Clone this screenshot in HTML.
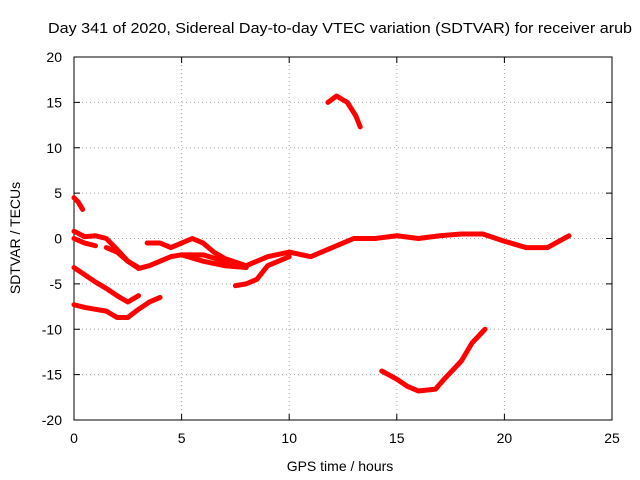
<!DOCTYPE html>
<html><head><meta charset="utf-8"><style>
body{margin:0;background:#fff;}
svg{display:block;font-family:"Liberation Sans",sans-serif;}
</style></head><body>
<svg id="chart" width="640" height="480">
<rect width="640" height="480" fill="#fff"/>
<text x="340" y="33" font-size="15" text-anchor="middle" textLength="584" lengthAdjust="spacingAndGlyphs">Day 341 of 2020, Sidereal Day-to-day VTEC variation (SDTVAR) for receiver arub</text>
<g id="grid"></g>
<g id="axes"></g>
<g id="series"></g>
<text x="340" y="471" font-size="14" text-anchor="middle">GPS time / hours</text>
<text x="20" y="238" font-size="14" text-anchor="middle" transform="rotate(-90 20 238)">SDTVAR / TECUs</text>
</svg>
<script>
const xTicks=[0,5,10,15,20,25];
const yTicks=[-20,-15,-10,-5,0,5,10,15,20];
const track1=[[0,4.5],[0.2,4],[0.4,3.2]];
const track2=[[0,0.8],[0.5,0.2],[1,0.3],[1.5,0],[2,-1.2],[2.5,-2.5],[3,-3.3],[3.5,-3],[4,-2.5],[4.5,-2],[5,-1.8],[6,-1.8],[7,-2.5],[8,-3],[9,-2],[10,-1.5],[11,-2],[12,-1],[13,0],[14,0],[15,0.3],[16,0],[17,0.3],[18,0.5],[19,0.5],[20,-0.3],[21,-1],[22,-1],[23,0.3]];
const track3=[[0,0],[0.5,-0.5],[1,-0.8]];
const track4=[[1.5,-1],[2,-1.5],[2.5,-2.5],[3,-3.2]];
const track5=[[3.4,-0.5],[4,-0.5],[4.5,-1],[5,-0.5],[5.5,0],[6,-0.5],[6.5,-1.5],[7,-2.2],[8,-3]];
const track6=[[5,-1.8],[6,-2.5],[7,-3],[8,-3.2]];
const track7=[[7.5,-5.2],[8,-5],[8.5,-4.5],[9,-3],[9.5,-2.5],[10,-2]];
const track8=[[0,-3.2],[0.5,-4],[1,-4.8],[1.5,-5.5],[2,-6.3],[2.5,-7],[3,-6.3]];
const track9=[[0,-7.3],[0.5,-7.6],[1,-7.8],[1.5,-8],[2,-8.7],[2.5,-8.7],[3,-7.8],[3.5,-7],[4,-6.5]];
const track10=[[11.8,15],[12.2,15.7],[12.7,15],[13.1,13.5],[13.3,12.3]];
const track11=[[14.3,-14.6],[15,-15.5],[15.5,-16.3],[16,-16.8],[16.8,-16.6],[17.2,-15.5],[18,-13.5],[18.5,-11.5],[19.1,-10]];
const tracks=[track1,track2,track3,track4,track5,track6,track7,track8,track9,track10,track11];

const L=74,R=612,T=57,B=420;
const sx=v=>L+(v-0)/(25-0)*(R-L);
const sy=v=>B-(v+20)/40*(B-T);
const NS="http://www.w3.org/2000/svg";
function mk(tag,attrs,parent){const e=document.createElementNS(NS,tag);for(const k in attrs)e.setAttribute(k,attrs[k]);parent.appendChild(e);return e;}
const grid=document.getElementById('grid'),axes=document.getElementById('axes'),ser=document.getElementById('series');
xTicks.forEach(t=>{
  const x=sx(t);
  if(t>0&&t<25){const g=mk('line',{x1:x,x2:x,y1:T,y2:B,stroke:'#aaa','stroke-dasharray':'1,3'},grid);
  
  }
  mk('line',{x1:x,x2:x,y1:B,y2:B-6,stroke:'#000'},axes);
  mk('line',{x1:x,x2:x,y1:T,y2:T+6,stroke:'#000'},axes);
  const lb=mk('text',{x:x,y:B+23,'font-size':14,'text-anchor':'middle'},axes);lb.textContent=t;
  
  
});
yTicks.forEach(t=>{
  const y=sy(t);
  if(t>-20&&t<20){const g=mk('line',{x1:L,x2:R,y1:y,y2:y,stroke:'#aaa','stroke-dasharray':'1,3'},grid);
  
  }
  mk('line',{x1:L,x2:L+6,y1:y,y2:y,stroke:'#000'},axes);
  mk('line',{x1:R,x2:R-6,y1:y,y2:y,stroke:'#000'},axes);
  const lb=mk('text',{x:L-12,y:y+5,'font-size':14,'text-anchor':'end'},axes);lb.textContent=t;
  
  
});
mk('rect',{x:L,y:T,width:R-L,height:B-T,fill:'none',stroke:'#000'},axes);
tracks.forEach((tr,i)=>{
  const p=mk('polyline',{points:tr.map(d=>sx(d[0])+','+sy(d[1])).join(' '),fill:'none',stroke:'#f00','stroke-width':5,'stroke-linejoin':'round','stroke-linecap':'round'},ser);
  
  
});
</script>
</body></html>
